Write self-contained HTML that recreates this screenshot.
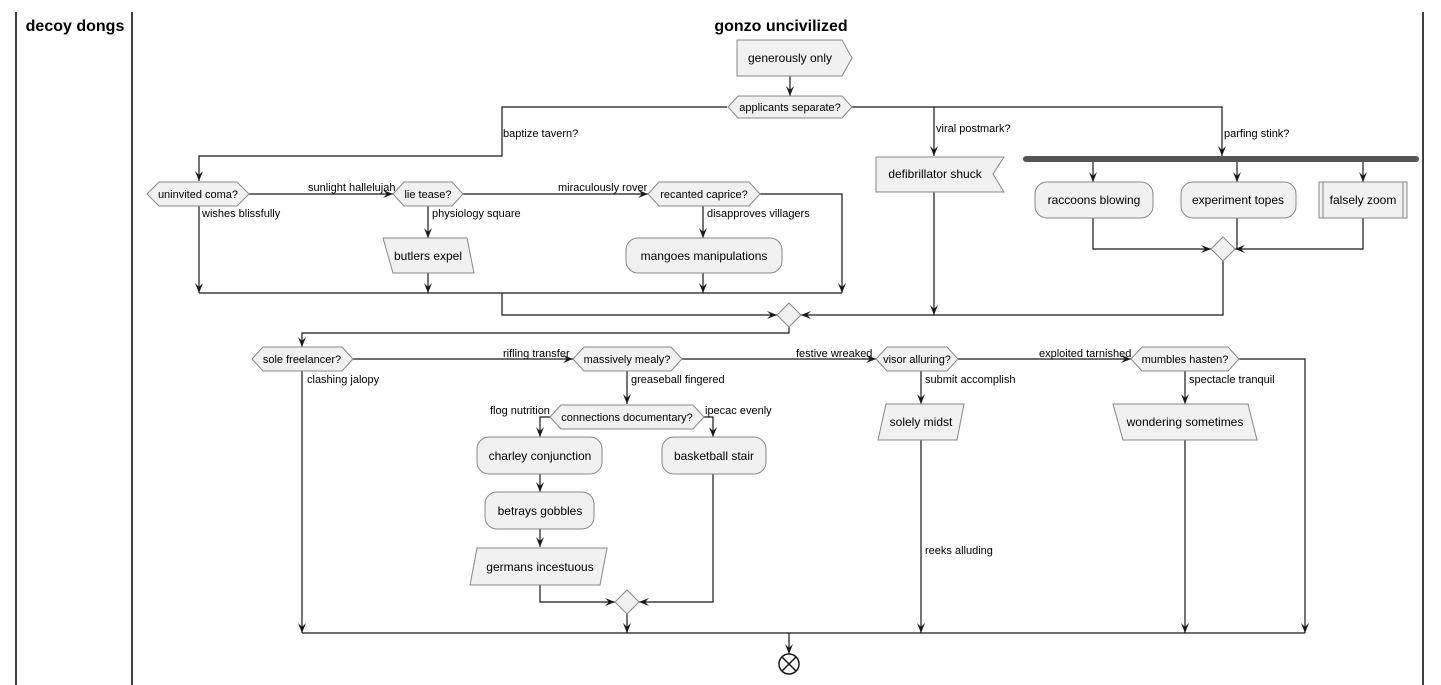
<!DOCTYPE html>
<html><head><meta charset="utf-8"><style>
html,body{margin:0;padding:0;background:#fff;}
svg{display:block;}
text{font-family:"Liberation Sans",Arial,sans-serif;fill:#000;}
.n{font-size:12px;text-anchor:middle;}
.l{font-size:11px;}
.s{fill:#f1f1f1;stroke:#888;stroke-width:1;}
.c{fill:none;stroke:#181818;stroke-width:1.2;}
</style></head><body>
<svg width="1441" height="685" viewBox="0 0 1441 685" xmlns="http://www.w3.org/2000/svg">
<defs>
<marker id="a" markerWidth="12" markerHeight="12" refX="10" refY="5" orient="auto" markerUnits="userSpaceOnUse">
<path d="M0,1 L10,5 L0,9 L4,5 Z" fill="#181818"/>
</marker>
</defs>
<line x1="16" y1="12" x2="16" y2="685" stroke="#000" stroke-width="1.5"/>
<line x1="132" y1="12" x2="132" y2="685" stroke="#000" stroke-width="1.5"/>
<line x1="1423" y1="12" x2="1423" y2="685" stroke="#000" stroke-width="1.5"/>
<text x="75" y="31" style="font-size:16px;font-weight:bold" text-anchor="middle">decoy dongs</text>
<text x="781" y="31" style="font-size:16px;font-weight:bold" text-anchor="middle">gonzo uncivilized</text>

<path class="c" d="M790,76 L790,96" marker-end="url(#a)"/>
<path class="c" d="M727,107 L502,107 L502,156 L199,156 L199,181" marker-end="url(#a)"/>
<path class="c" d="M852,107 L1222,107 L1222,156" marker-end="url(#a)"/>
<path class="c" d="M934,107 L934,156" marker-end="url(#a)"/>
<path class="c" d="M1093,162 L1093,182" marker-end="url(#a)"/>
<path class="c" d="M1237,162 L1237,182" marker-end="url(#a)"/>
<path class="c" d="M1363,162 L1363,182" marker-end="url(#a)"/>
<path class="c" d="M1093,218 L1093,249 L1211,249" marker-end="url(#a)"/>
<path class="c" d="M1237,218 L1237,249"/>
<path class="c" d="M1363,218 L1363,249 L1235,249" marker-end="url(#a)"/>
<path class="c" d="M1223,261 L1223,315 L801,315" marker-end="url(#a)"/>
<path class="c" d="M934,192 L934,315" marker-end="url(#a)"/>

<path class="c" d="M249,194 L393,194" marker-end="url(#a)"/>
<path class="c" d="M463,194 L648,194" marker-end="url(#a)"/>
<path class="c" d="M760,194 L842,194 L842,293" marker-end="url(#a)"/>
<path class="c" d="M199,206 L199,293" marker-end="url(#a)"/>
<path class="c" d="M428,206 L428,238" marker-end="url(#a)"/>
<path class="c" d="M428,273 L428,293" marker-end="url(#a)"/>
<path class="c" d="M703,206 L703,238" marker-end="url(#a)"/>
<path class="c" d="M703,273 L703,293" marker-end="url(#a)"/>
<path class="c" d="M199,293 L842,293"/>
<path class="c" d="M502,293 L502,315 L777,315" marker-end="url(#a)"/>

<path class="c" d="M789,327 L789,333 L302,333 L302,347" marker-end="url(#a)"/>
<path class="c" d="M353,359 L573,359" marker-end="url(#a)"/>
<path class="c" d="M682,359 L876,359" marker-end="url(#a)"/>
<path class="c" d="M958,359 L1131,359" marker-end="url(#a)"/>
<path class="c" d="M1239,359 L1305,359 L1305,633" marker-end="url(#a)"/>
<path class="c" d="M302,371 L302,633" marker-end="url(#a)"/>
<path class="c" d="M627,371 L627,404" marker-end="url(#a)"/>
<path class="c" d="M550,417 L540,417 L540,437" marker-end="url(#a)"/>
<path class="c" d="M704,417 L713,417 L713,437" marker-end="url(#a)"/>
<path class="c" d="M540,474 L540,492" marker-end="url(#a)"/>
<path class="c" d="M540,529 L540,547" marker-end="url(#a)"/>
<path class="c" d="M540,585 L540,602 L615,602" marker-end="url(#a)"/>
<path class="c" d="M713,474 L713,602 L639,602" marker-end="url(#a)"/>
<path class="c" d="M627,614 L627,633" marker-end="url(#a)"/>
<path class="c" d="M921,371 L921,404" marker-end="url(#a)"/>
<path class="c" d="M921,440 L921,633" marker-end="url(#a)"/>
<path class="c" d="M1185,371 L1185,404" marker-end="url(#a)"/>
<path class="c" d="M1185,440 L1185,633" marker-end="url(#a)"/>
<path class="c" d="M302,633 L1305,633"/>
<path class="c" d="M789,633 L789,654" marker-end="url(#a)"/>

<polygon class="s" points="737,40 842,40 852,58 842,76 737,76"/>
<text class="n" x="790" y="62">generously only</text>
<polygon class="s" points="738,96 842,96 852,107 842,118 738,118 728,107"/>
<text class="l" x="790" y="111" text-anchor="middle">applicants separate?</text>

<polygon class="s" points="876,157 1004,157 993,174 1004,192 876,192"/>
<text class="n" x="935" y="178">defibrillator shuck</text>
<rect x="1023" y="156" width="396" height="6" rx="3" fill="#555"/>
<rect class="s" x="1035" y="182" width="118" height="36" rx="12"/>
<text class="n" x="1094" y="204">raccoons blowing</text>
<rect class="s" x="1181" y="182" width="115" height="36" rx="12"/>
<text class="n" x="1238" y="204">experiment topes</text>
<rect class="s" x="1319" y="182" width="88" height="36"/>
<line x1="1323" y1="182" x2="1323" y2="218" stroke="#888"/>
<line x1="1403" y1="182" x2="1403" y2="218" stroke="#888"/>
<text class="n" x="1363" y="204">falsely zoom</text>
<polygon class="s" points="1223,237 1235,249 1223,261 1211,249"/>

<polygon class="s" points="159,182 237,182 249,194 237,206 159,206 147,194"/>
<text class="l" x="198" y="198" text-anchor="middle">uninvited coma?</text>
<polygon class="s" points="404,182 452,182 463,194 452,206 404,206 393,194"/>
<text class="l" x="428" y="198" text-anchor="middle">lie tease?</text>
<polygon class="s" points="659,182 749,182 760,194 749,206 659,206 648,194"/>
<text class="l" x="704" y="198" text-anchor="middle">recanted caprice?</text>
<polygon class="s" points="383,238 467,238 474,273 393,273"/>
<text class="n" x="428" y="260">butlers expel</text>
<rect class="s" x="626" y="238" width="156" height="35" rx="12"/>
<text class="n" x="704" y="260">mangoes manipulations</text>
<polygon class="s" points="789,303 801,315 789,327 777,315"/>

<polygon class="s" points="263,347 342,347 353,359 342,371 263,371 252,359"/>
<text class="l" x="302" y="363" text-anchor="middle">sole freelancer?</text>
<polygon class="s" points="584,347 671,347 682,359 671,371 584,371 573,359"/>
<text class="l" x="627" y="363" text-anchor="middle">massively mealy?</text>
<polygon class="s" points="887,347 947,347 958,359 947,371 887,371 876,359"/>
<text class="l" x="917" y="363" text-anchor="middle">visor alluring?</text>
<polygon class="s" points="1142,347 1228,347 1239,359 1228,371 1142,371 1131,359"/>
<text class="l" x="1185" y="363" text-anchor="middle">mumbles hasten?</text>
<polygon class="s" points="561,405 693,405 704,417 693,429 561,429 550,417"/>
<text class="l" x="627" y="421" text-anchor="middle">connections documentary?</text>
<rect class="s" x="477" y="437" width="125" height="37" rx="12"/>
<text class="n" x="540" y="460">charley conjunction</text>
<rect class="s" x="485" y="492" width="109" height="37" rx="12"/>
<text class="n" x="540" y="515">betrays gobbles</text>
<polygon class="s" points="477,548 607,548 600,585 470,585"/>
<text class="n" x="540" y="571">germans incestuous</text>
<rect class="s" x="662" y="437" width="104" height="37" rx="12"/>
<text class="n" x="714" y="460">basketball stair</text>
<polygon class="s" points="627,590 639,602 627,614 615,602"/>
<polygon class="s" points="886,404 964,404 957,440 878,440"/>
<text class="n" x="921" y="426">solely midst</text>
<polygon class="s" points="1113,404 1248,404 1257,440 1123,440"/>
<text class="n" x="1185" y="426">wondering sometimes</text>

<circle cx="789" cy="664" r="10" fill="none" stroke="#181818" stroke-width="1.5"/>
<path d="M782,657 L796,671 M796,657 L782,671" stroke="#181818" stroke-width="1.5"/>

<g class="l">
<text x="503" y="137">baptize tavern?</text>
<text x="936" y="132">viral postmark?</text>
<text x="1224" y="137">parfing stink?</text>
<text x="308" y="191">sunlight hallelujah</text>
<text x="558" y="191">miraculously rover</text>
<text x="202" y="217">wishes blissfully</text>
<text x="432" y="217">physiology square</text>
<text x="707" y="217">disapproves villagers</text>
<text x="503" y="357">rifling transfer</text>
<text x="796" y="357">festive wreaked</text>
<text x="1039" y="357">exploited tarnished</text>
<text x="307" y="383">clashing jalopy</text>
<text x="631" y="383">greaseball fingered</text>
<text x="490" y="414">flog nutrition</text>
<text x="705" y="414">ipecac evenly</text>
<text x="925" y="383">submit accomplish</text>
<text x="1189" y="383">spectacle tranquil</text>
<text x="925" y="554">reeks alluding</text>
</g>
</svg>
</body></html>
